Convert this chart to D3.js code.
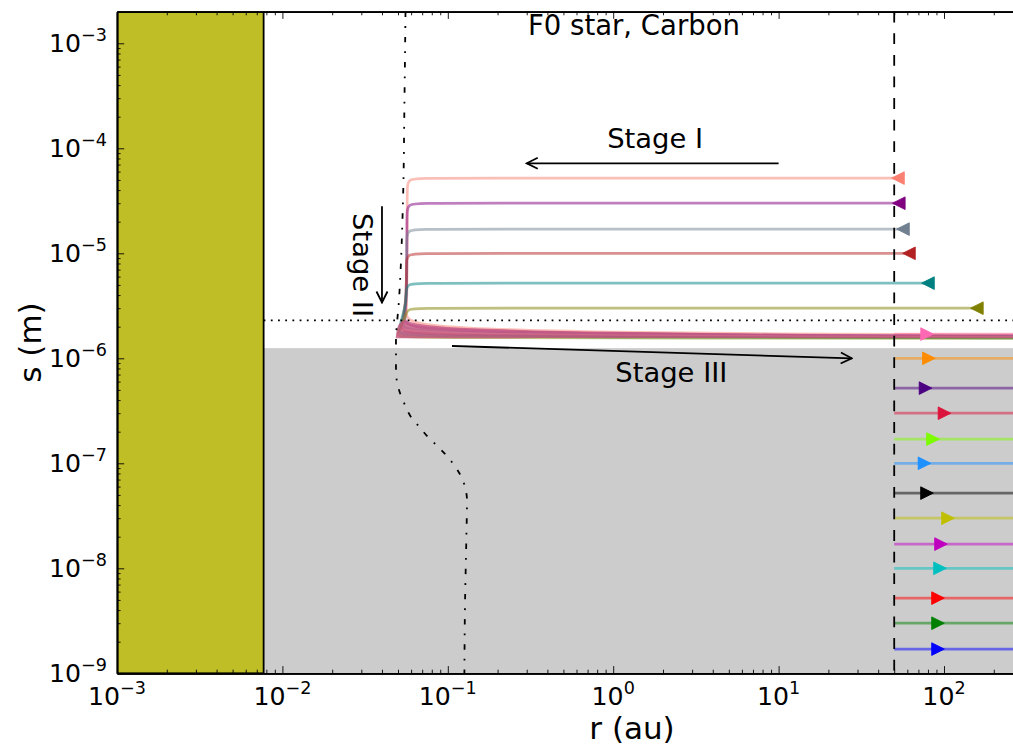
<!DOCTYPE html>
<html><head><meta charset="utf-8">
<script src="https://cdn.jsdelivr.net/npm/d3@7"></script>
<style>
html,body{margin:0;padding:0;background:#fff;}
svg{display:block;font-family:"DejaVu Sans",sans-serif;}
</style></head><body>
<svg id="chart" width="1013" height="749"></svg>
<script>
// ---------------- data ----------------
const xTickExps = [-3, -2, -1, 0, 1, 2];
const yTickExps = [-9, -8, -7, -6, -5, -4, -3];
const xDomain = [1e-3, 1750];
const yDomain = [1e-9, 2e-3];

const starEdgeR = 0.0077;      // yellow (star) region edge, au
const grayTopS = 1.25e-6;      // top of shaded region, m
const blowoutS = 2.3e-6;       // dotted horizontal line, m
const launchR = 50;            // dashed vertical line, au

// sublimation curve (dash-dot)
const sublimR = [0.0555,0.0547,0.0536,0.0507,0.0486,0.0486,0.0491,0.0514,0.0551,0.0599,0.0673,0.0759,0.0864,0.0975,0.109,0.120,0.1276,0.1306,0.1294,0.127,0.126];
const sublimS = [2e-3,2.88e-4,3.2e-5,3.6e-6,1.43e-6,8.1e-7,6.2e-7,4.68e-7,3.59e-7,2.76e-7,2.22e-7,1.78e-7,1.46e-7,1.2e-7,9.64e-8,7.57e-8,5.82e-8,4.38e-8,1.86e-8,4.28e-9,1e-9];

// inward-drifting grains (Stage I -> II -> III)
const inColors = ["#fa8072","#800080","#708090","#b22222","#008080","#808000"];
const inTrackR = [
  [52.7, 0.074, 0.0568, 0.0568, 0.0568, 0.0555, 0.060, 0.1, 1, 10, 100, 1750],
  [53.3, 0.074, 0.0566, 0.0566, 0.0566, 0.054, 0.058, 0.1, 1, 10, 100, 1750],
  [56.5, 0.074, 0.0564, 0.0564, 0.0564, 0.0525, 0.056, 0.1, 1, 10, 100, 1750],
  [61.4, 0.074, 0.0562, 0.0562, 0.0562, 0.051, 0.055, 0.1, 1, 10, 100, 1750],
  [80, 0.074, 0.056, 0.056, 0.056, 0.0495, 0.053, 0.1, 1, 10, 100, 1750],
  [158, 0.074, 0.0558, 0.0558, 0.0485, 0.052, 0.1, 1, 10, 100, 1750]
];
const inTrackS = [
  [5.2e-5, 5.2e-5, 5.2e-5, 4.0e-5, 3.2e-6, 2.5e-6, 2.2e-6, 1.93e-6, 1.76e-6, 1.71e-6, 1.68e-6, 1.65e-6],
  [3.0e-5, 3.0e-5, 3.0e-5, 2.3e-5, 3.2e-6, 2.25e-6, 2.02e-6, 1.83e-6, 1.70e-6, 1.66e-6, 1.64e-6, 1.62e-6],
  [1.7e-5, 1.7e-5, 1.7e-5, 1.32e-5, 3.2e-6, 2.05e-6, 1.88e-6, 1.74e-6, 1.66e-6, 1.63e-6, 1.61e-6, 1.60e-6],
  [1.0e-5, 1.0e-5, 1.0e-5, 7.8e-6, 3.2e-6, 1.9e-6, 1.76e-6, 1.67e-6, 1.62e-6, 1.60e-6, 1.59e-6, 1.58e-6],
  [5.2e-6, 5.2e-6, 5.2e-6, 4.1e-6, 3.2e-6, 1.78e-6, 1.68e-6, 1.62e-6, 1.59e-6, 1.58e-6, 1.57e-6, 1.56e-6],
  [3.0e-6, 3.0e-6, 3.0e-6, 2.4e-6, 1.68e-6, 1.6e-6, 1.57e-6, 1.56e-6, 1.55e-6, 1.55e-6, 1.54e-6]
];
const inMarkerR = [52.7, 53.3, 56.5, 61.4, 80, 158];
const inMarkerS = [5.2e-5, 3.0e-5, 1.7e-5, 1.0e-5, 5.2e-6, 3.0e-6];

// region swept by the oscillating Stage III tracks
const sweepR    = [0.0485, 0.0495, 0.052, 0.055, 0.06, 0.08, 0.1, 0.2, 0.5, 1, 3, 10, 30, 100, 300, 1750];
const sweepTopS = [1.62e-6, 1.95e-6, 2.2e-6, 2.3e-6, 2.2e-6, 2.05e-6, 1.99e-6, 1.9e-6, 1.82e-6, 1.79e-6, 1.75e-6, 1.71e-6, 1.68e-6, 1.66e-6, 1.65e-6, 1.64e-6];
const sweepBotS = [1.55e-6, 1.55e-6, 1.55e-6, 1.55e-6, 1.55e-6, 1.55e-6, 1.55e-6, 1.55e-6, 1.56e-6, 1.56e-6, 1.56e-6, 1.56e-6, 1.56e-6, 1.56e-6, 1.56e-6, 1.56e-6];

// outward-moving grains launched at 50 au
const outSizes = [1.7e-6, 1.0e-6, 5.2e-7, 3.0e-7, 1.7e-7, 1.0e-7, 5.2e-8, 3.0e-8, 1.7e-8, 1.0e-8, 5.2e-9, 3.0e-9, 1.7e-9];
const outMarkerR = [79, 81, 77.3, 100.7, 85.8, 76.2, 78.9, 105.7, 95.9, 94.6, 92, 92, 92];
const outColors = ["#ff69b4","#ff8c00","#4b0082","#dc143c","#7cfc00","#1e90ff","#000000","#bfbf00","#bf00bf","#00bfbf","#ff0000","#008000","#0000ff"];

// annotations
const stageArrowFrom = [[10, 7.2e-5], [0.04, 2.8e-5], [0.106, 1.31e-6]];
const stageArrowTo   = [[0.3, 7.2e-5], [0.04, 3.4e-6], [27.7, 1.0e-6]];
const stageText = ["Stage I", "Stage II", "Stage III"];
const stageTextPos = [[0.92, 1.0e-4], [0.0267, 2.42e-5], [1.03, 6.0e-7]];
const stageTextRot = [0, 90, 0];

// ---------------- drawing ----------------
const svg = d3.select("#chart");
const X0 = 117, Y0 = 673.3, decX = 165.4, decY = 105;
const x = d3.scaleLog().domain(xDomain).range([X0, X0 + decX*Math.log10(xDomain[1]/xDomain[0])]);
const y = d3.scaleLog().domain(yDomain).range([Y0, Y0 - decY*Math.log10(yDomain[1]/yDomain[0])]);
const xR = x.range(), yR = y.range();

const defs = svg.append("defs");
defs.append("clipPath").attr("id","clip").append("rect")
  .attr("x", xR[0]).attr("y", yR[1]).attr("width", xR[1]-xR[0]).attr("height", yR[0]-yR[1]);
defs.append("marker").attr("id","ah").attr("viewBox","0 0 14 14")
  .attr("refX",12.5).attr("refY",7).attr("markerWidth",14).attr("markerHeight",14)
  .attr("markerUnits","userSpaceOnUse").attr("orient","auto")
  .append("path").attr("d","M1.5,1.5 L12.5,7 L1.5,12.5").attr("fill","none")
  .attr("stroke","#000").attr("stroke-width",1.8);

const plot = svg.append("g").attr("clip-path","url(#clip)");

// shaded region
plot.append("rect").attr("x", x(starEdgeR)).attr("y", y(grayTopS))
  .attr("width", xR[1]-x(starEdgeR)).attr("height", y(yDomain[0]) - y(grayTopS))
  .attr("fill","#cccccc");
// star region
plot.append("rect").attr("x", xR[0]).attr("y", yR[1])
  .attr("width", x(starEdgeR)-xR[0]).attr("height", yR[0]-yR[1])
  .attr("fill","#c0be26").attr("stroke","#000").attr("stroke-width",1.8);

const lineGen = d3.line().x(d=>x(d[0])).y(d=>y(d[1])).curve(d3.curveBasis);

// outward tracks
outSizes.forEach((s,i)=>{
  plot.append("path").attr("d", d3.line().x(d=>x(d[0])).y(d=>y(d[1]))([[launchR,s],[xDomain[1],s]]))
    .attr("fill","none").attr("stroke", outColors[i]).attr("stroke-opacity",0.5).attr("stroke-width",2.7);
});
// inward tracks
inTrackR.forEach((rs,i)=>{
  const pts = rs.map((r,j)=>[r, inTrackS[i][j]]);
  plot.append("path").attr("d", lineGen(pts)).attr("fill","none")
    .attr("stroke", inColors[i]).attr("stroke-opacity",0.5).attr("stroke-width",2.7)
    .attr("stroke-linejoin","round");
});
// swept Stage III region
const sweepArea = d3.area().x(d=>x(d.r)).y0(d=>y(d.b)).y1(d=>y(d.t)).curve(d3.curveMonotoneX);
plot.append("path").attr("d", sweepArea(sweepR.map((r,i)=>({r, t:sweepTopS[i], b:sweepBotS[i]}))))
  .attr("fill","#c4527e").attr("fill-opacity",0.8);
// a lighter streak inside the band
plot.append("path").attr("d", lineGen(sweepR.map((r,i)=>[r, Math.sqrt(sweepTopS[i]*sweepBotS[i])]).slice(2)))
  .attr("fill","none").attr("stroke","#e07890").attr("stroke-opacity",0.45).attr("stroke-width",1.5);

// dotted blowout line
plot.append("line").attr("x1", x(starEdgeR)).attr("x2", xR[1]).attr("y1", y(blowoutS)).attr("y2", y(blowoutS))
  .attr("stroke","#000").attr("stroke-width",1.8).attr("stroke-dasharray","1.8,5.4");
// dash-dot sublimation curve
plot.append("path").attr("d", d3.line().x(d=>x(d[0])).y(d=>y(d[1])).curve(d3.curveMonotoneY)(sublimR.map((r,i)=>[r, sublimS[i]])))
  .attr("fill","none").attr("stroke","#000").attr("stroke-width",1.8).attr("stroke-dasharray","5.4,9,1.8,9");
// dashed launch line
plot.append("line").attr("x1", x(launchR)).attr("x2", x(launchR)).attr("y1", yR[1]).attr("y2", yR[0])
  .attr("stroke","#000").attr("stroke-width",1.8).attr("stroke-dasharray","10.8,10.8");

// markers
const triLeft = "M-6.3,0L6.3,-6.3L6.3,6.3Z", triRight = "M6.3,0L-6.3,-6.3L-6.3,6.3Z";
inMarkerR.forEach((r,i)=>{
  plot.append("path").attr("d", triLeft).attr("transform",`translate(${x(r)},${y(inMarkerS[i])})`)
    .attr("fill", inColors[i]).attr("stroke", inColors[i]).attr("stroke-width",0.9);
});
outMarkerR.forEach((r,i)=>{
  plot.append("path").attr("d", triRight).attr("transform",`translate(${x(r)},${y(outSizes[i])})`)
    .attr("fill", outColors[i]).attr("stroke", outColors[i]).attr("stroke-width",0.9);
});

// annotations
stageArrowFrom.forEach((f,i)=>{
  const t = stageArrowTo[i];
  svg.append("line").attr("x1", x(f[0])).attr("y1", y(f[1])).attr("x2", x(t[0])).attr("y2", y(t[1]))
    .attr("stroke","#000").attr("stroke-width",1.8).attr("marker-end","url(#ah)");
});
stageText.forEach((s,i)=>{
  const p = stageTextPos[i];
  svg.append("text").attr("transform",`translate(${x(p[0])},${y(p[1])}) rotate(${stageTextRot[i]})`)
    .attr("font-size",27.4).attr("fill","#000").text(s);
});

// title
svg.append("text").attr("x",634).attr("y",35).attr("text-anchor","middle").attr("font-size",27.5).text("F0 star, Carbon");

// axes
const xMinor = [], yMinor = [];
for (let e=-3;e<=3;e++) for (let m=2;m<=9;m++) { const v=m*Math.pow(10,e); if (v<=xDomain[1]) xMinor.push(v); }
for (let e=-9;e<=-3;e++) for (let m=2;m<=9;m++) { const v=m*Math.pow(10,e); if (v<=yDomain[1]) yMinor.push(v); }
const xMajor = [...xTickExps, 3].map(e=>Math.pow(10,e)).filter(v=>v<=xDomain[1]);
const yMajor = yTickExps.map(e=>Math.pow(10,e));

function styleAxis(g){
  g.select(".domain").attr("stroke","#000").attr("stroke-width",1.8);
  g.selectAll(".tick line").attr("stroke","#000").attr("stroke-width",0.9);
  g.selectAll(".tick text").remove();
}
svg.append("g").attr("transform",`translate(0,${Y0})`).call(d3.axisBottom(x).tickValues(xMajor).tickSize(-7.2).tickSizeOuter(0).tickFormat("")).call(styleAxis);
svg.append("g").attr("transform",`translate(0,${Y0})`).call(d3.axisBottom(x).tickValues(xMinor).tickSize(-3.6).tickSizeOuter(0).tickFormat("")).call(styleAxis);
svg.append("g").attr("transform",`translate(0,${yR[1]})`).call(d3.axisTop(x).tickValues(xMajor).tickSize(-7.2).tickSizeOuter(0).tickFormat("")).call(styleAxis);
svg.append("g").attr("transform",`translate(0,${yR[1]})`).call(d3.axisTop(x).tickValues(xMinor).tickSize(-3.6).tickSizeOuter(0).tickFormat("")).call(styleAxis);
svg.append("g").attr("transform",`translate(${X0},0)`).call(d3.axisLeft(y).tickValues(yMajor).tickSize(-7.2).tickSizeOuter(0).tickFormat("")).call(styleAxis);
svg.append("g").attr("transform",`translate(${X0},0)`).call(d3.axisLeft(y).tickValues(yMinor).tickSize(-3.6).tickSizeOuter(0).tickFormat("")).call(styleAxis);

function powLabel(t, e){
  t.append("tspan").text("10");
  t.append("tspan").attr("font-size",17.6).attr("dy",-11.5).text(e<0 ? "\u2212"+(-e) : String(e));
}
xTickExps.forEach(e=>{
  const v = Math.pow(10,e);
  const t = svg.append("text").attr("x", x(v)).attr("y", Y0+32).attr("text-anchor","middle").attr("font-size",25.2);
  powLabel(t,e);
});
yTickExps.forEach(e=>{
  const v = Math.pow(10,e);
  const t = svg.append("text").attr("x", X0-10).attr("y", y(v)+9).attr("text-anchor","end").attr("font-size",25.2);
  powLabel(t,e);
});

svg.append("text").attr("x",632).attr("y",739).attr("text-anchor","middle").attr("font-size",31).text("r (au)");
svg.append("text").attr("transform",`translate(41,${(yR[0]+yR[1])/2}) rotate(-90)`).attr("text-anchor","middle").attr("font-size",31).text("s (m)");
</script></body></html>
